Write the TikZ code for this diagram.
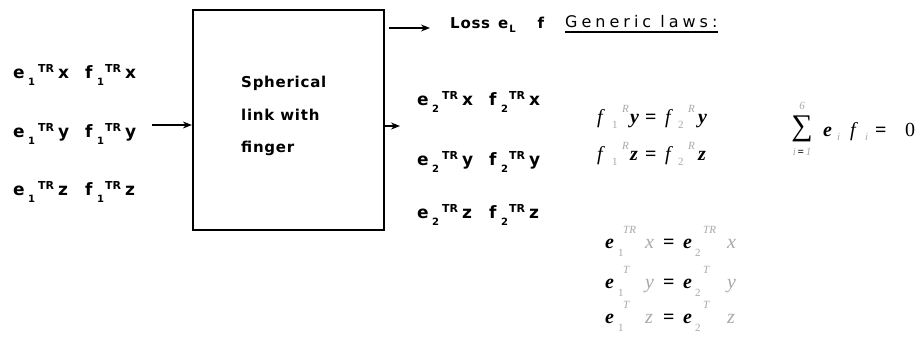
\documentclass[tikz,border=0pt]{standalone}
\usepackage{fontspec}
\newfontfamily\comic{DejaVu Sans}
\newfontfamily\comicsp[LetterSpace=5]{DejaVu Sans}
\newfontfamily\comicreg[LetterSpace=25]{DejaVu Sans}
\newfontfamily\mser{Liberation Serif}
\usetikzlibrary{arrows.meta}
\definecolor{gry}{HTML}{A8A8A8}
\newcommand\bigc{\comic\bfseries\fontsize{17}{19}\selectfont}
\newcommand\smc{\comic\bfseries\fontsize{10}{11}\selectfont}
\newcommand\trc{\comic\bfseries\fontsize{11}{12}\selectfont}
\newcommand\mb[2]{\makebox[#1pt][l]{#2}}
% comic pair: #1 = index, #2 = axis
\newcommand\cpair[2]{\mb{15}{e}\mb{10}{\raisebox{-7pt}{\smc #1}}\mb{20}{\raisebox{6pt}{\trc TR}}\mb{27}{#2}%
\mb{12}{f}\mb{8}{\raisebox{-7pt}{\smc #1}}\mb{20}{\raisebox{6pt}{\trc TR}}#2}
\newcommand\gs{\color{gry}\fontsize{11}{11}\selectfont}
\newcommand\feq[1]{\mb{15}{\textit{f}}\mb{10}{\raisebox{-5pt}{\gs 1}}\mb{8}{\raisebox{11pt}{\gs\itshape R}}\mb{15}{\textbf{\textit{#1}}}\mb{20}{\textbf{=}}%
\mb{13}{\textit{f}}\mb{10}{\raisebox{-5pt}{\gs 2}}\mb{10}{\raisebox{11pt}{\gs\itshape R}}\textbf{\textit{#1}}}
\newcommand\eeq[2]{\mb{13}{\textbf{\textit{e}}}\mb{5}{\raisebox{-8pt}{\gs 1}}\mb{22}{\raisebox{15pt}{\gs\itshape #1}}\mb{18}{{\color{gry}\textit{#2}}}\mb{20}{\textbf{=}}%
\mb{12}{\textbf{\textit{e}}}\mb{8}{\raisebox{-8pt}{\gs 2}}\mb{24}{\raisebox{15pt}{\gs\itshape #1}}{\color{gry}\textit{#2}}}
\tikzset{
  lbl/.style={anchor=base west, inner sep=0pt, font=\bigc},
  boxt/.style={anchor=base west, inner sep=0pt, font=\comicsp\bfseries\fontsize{15}{17}\selectfont},
  meq/.style={anchor=base west, inner sep=0pt, font=\mser\fontsize{20}{22}\selectfont},
  conn/.style={line width=1.2pt, -{Stealth[length=9pt,width=7pt]}},
}
\begin{document}
\begin{tikzpicture}[x=1pt,y=-1pt]
\useasboundingbox (0,0) rectangle (923,341);
\node[draw, line width=2.2pt, minimum width=191pt, minimum height=220pt, inner sep=0pt] (box) at (288.5,120) {};
\node[boxt] (b1) at (241,87) {Spherical};
\node[boxt] (b2) at (241,120) {link with};
\node[boxt] (b3) at (241,152) {finger};

\node[lbl] (l1) at (13,78) {\cpair{1}{x}};
\node[lbl] (l2) at (13,137) {\cpair{1}{y}};
\node[lbl] (l3) at (13,195) {\cpair{1}{z}};

\node[lbl] (r1) at (417,105) {\cpair{2}{x}};
\node[lbl] (r2) at (417,165) {\cpair{2}{y}};
\node[lbl] (r3) at (417,218) {\cpair{2}{z}};

\node[anchor=base west, inner sep=0pt, font=\comicsp\bfseries\fontsize{15}{17}\selectfont] (loss) at (450,28) {Loss\hspace{8pt}e\kern1pt\raisebox{-4pt}{\smc L}\hspace{22pt}f};
\node[anchor=base west, inner sep=0pt, font=\comicreg\fontsize{16}{18}\selectfont] (gen) at (565,27) {Generic laws:};
\draw[line width=1.3pt] ([yshift=-5pt]gen.base west) -- ([yshift=-5pt]gen.base east);

\coordinate (inA) at (152,125);
\draw[conn] (inA) -- (box.west |- inA);
\coordinate (outA) at (400,126);
\draw[conn] (box.east |- outA) -- (outA);
\coordinate (topA) at (389,28);
\coordinate (topB) at (430,28);
\draw[conn] (topA) -- (topB);

\node[meq] (f1) at (597,123) {\feq{y}};
\node[meq] (f2) at (597,160) {\feq{z}};

\node[inner sep=0pt, font=\mser\fontsize{30}{32}\selectfont] (sum) at (802,129) {∑};
\node[inner sep=0pt, font=\gs\mser\itshape, anchor=south] (sumtop) at (802,110) {6};
\node[inner sep=0pt, font=\gs\mser\itshape, anchor=north] (sumbot) at (802,148) {i\,{\color{black}\textbf{=}}\,1};
\node[meq] (prod) at (823,136) {\mb{14}{\textbf{\textit{e}}}\mb{13}{\raisebox{-4pt}{\gs\itshape i}}\mb{15}{\textit{f}}\mb{10}{\raisebox{-4pt}{\gs\itshape i}}\mb{30}{\textbf{=}}0};

\node[meq] (e1) at (605,248) {\eeq{TR}{x}};
\node[meq] (e2) at (605,288) {\eeq{T}{y}};
\node[meq] (e3) at (605,323) {\eeq{T}{z}};
\end{tikzpicture}
\end{document}
